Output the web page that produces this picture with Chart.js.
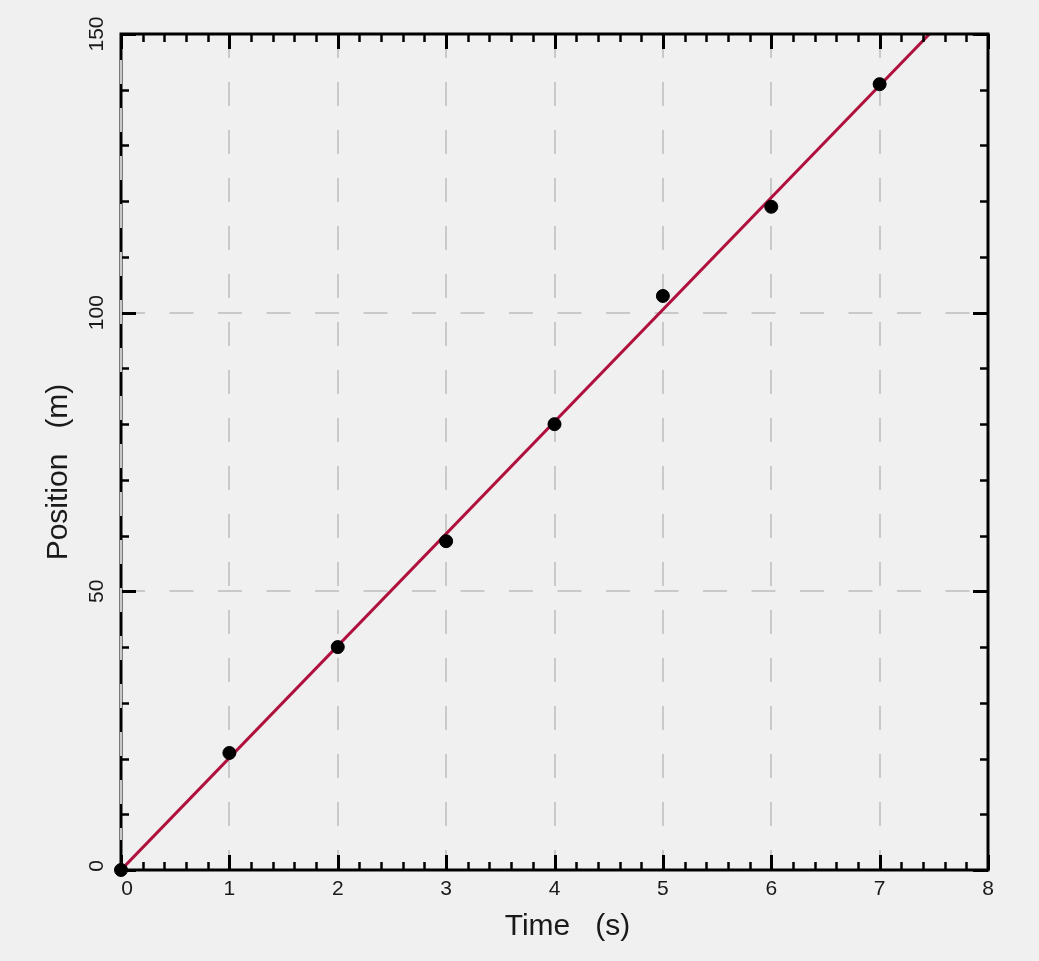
<!DOCTYPE html>
<html>
<head>
<meta charset="utf-8">
<script src="https://cdn.jsdelivr.net/npm/chart.js@4.4.1/dist/chart.umd.min.js"></script>
<style>
  html, body { margin: 0; padding: 0; background: #f0f0f0; }
  #wrap { width: 1039px; height: 961px; position: relative; }
</style>
</head>
<body>
<div id="wrap"><canvas id="c" width="1039" height="961"></canvas></div>
<script>
// ---- data ----
const timeS = [0, 1, 2, 3, 4, 5, 6, 7];
const positionM = [0, 21, 40, 59, 80, 103, 119, 141];
const fitLineX = [0, 7.46];
const fitLineY = [0, 150];
const xTickValues = [0, 1, 2, 3, 4, 5, 6, 7, 8];
const xTickLabels = ['0', '1', '2', '3', '4', '5', '6', '7', '8'];
const yTickValues = [0, 50, 100, 150];
const yTickLabels = ['0', '50', '100', '150'];
const xTitle = 'Time   (s)';
const yTitle = 'Position   (m)';

const FONT = '"Liberation Sans", Arial, Helvetica, sans-serif';
const GRID_COLOR = '#c9c9c9';
const X_GRID_DASH = [24, 24];
const Y_GRID_DASH = [24, 24.5];

const framePlugin = {
  id: 'frame',
  afterDatasetsDraw(chart) {
    const ctx = chart.ctx;
    const a = chart.chartArea;
    const xs = chart.scales.x, ys = chart.scales.y;
    ctx.save();
    ctx.strokeStyle = '#000';
    ctx.lineCap = 'butt';
    // minor & major ticks on x (bottom + top)
    for (let i = 0; i <= 40; i++) {
      const v = i * 0.2;
      const major = i % 5 === 0;
      const len = major ? 15 : 8;
      const px = Math.round(xs.getPixelForValue(v)) + 0.5;
      ctx.lineWidth = major ? 3 : 2.5;
      ctx.beginPath();
      ctx.moveTo(px, a.bottom); ctx.lineTo(px, a.bottom - len);
      ctx.moveTo(px, a.top); ctx.lineTo(px, a.top + len);
      ctx.stroke();
    }
    // y ticks (left + right)
    for (let v = 0; v <= 150; v += 10) {
      const major = v % 50 === 0;
      const len = major ? 15 : 8;
      const py = Math.round(ys.getPixelForValue(v)) + 0.5;
      ctx.lineWidth = major ? 3 : 2.5;
      ctx.beginPath();
      ctx.moveTo(a.left, py); ctx.lineTo(a.left + len, py);
      ctx.moveTo(a.right, py); ctx.lineTo(a.right - len, py);
      ctx.stroke();
    }
    // frame
    ctx.lineWidth = 3;
    ctx.strokeRect(a.left, a.top, a.right - a.left, a.bottom - a.top);
    // gray dashed grid line at x = 0 drawn over the left edge (as in reference)
    ctx.save();
    ctx.strokeStyle = GRID_COLOR;
    ctx.lineWidth = 2;
    ctx.setLineDash(X_GRID_DASH);
    const x0 = xs.getPixelForValue(0);
    ctx.beginPath();
    ctx.moveTo(x0, a.top + 26); ctx.lineTo(x0, a.bottom - 30);
    ctx.stroke();
    ctx.restore();

    // x tick labels
    ctx.fillStyle = '#1a1a1a';
    ctx.font = '21px ' + FONT;
    ctx.textAlign = 'center';
    ctx.textBaseline = 'middle';
    xTickValues.forEach((v, i) => {
      let px = xs.getPixelForValue(v);
      if (i === 0) px += 6;
      ctx.fillText(xTickLabels[i], px, a.bottom + 19);
    });
    // y tick labels, rotated
    yTickValues.forEach((v, i) => {
      let py = ys.getPixelForValue(v);
      if (i === 0) py -= 4;
      ctx.save();
      ctx.translate(a.left - 24, py);
      ctx.rotate(-Math.PI / 2);
      ctx.fillText(yTickLabels[i], 0, 0);
      ctx.restore();
    });
    // titles
    ctx.font = '30px ' + FONT;
    ctx.textBaseline = 'alphabetic';
    ctx.fillText(xTitle, (a.left + a.right) / 2 + 13, a.bottom + 65);
    ctx.save();
    ctx.translate(a.left - 54, (a.top + a.bottom) / 2 + 20);
    ctx.rotate(-Math.PI / 2);
    ctx.fillText(yTitle, 0, 0);
    ctx.restore();
    ctx.restore();
  }
};

const bgPlugin = {
  id: 'bg',
  beforeDraw(chart) {
    const ctx = chart.ctx;
    ctx.save();
    ctx.fillStyle = '#f0f0f0';
    ctx.fillRect(0, 0, chart.width, chart.height);
    ctx.restore();
  }
};

new Chart(document.getElementById('c'), {
  type: 'scatter',
  data: {
    datasets: [
      {
        label: 'fit',
        type: 'line',
        data: fitLineX.map((x, i) => ({ x, y: fitLineY[i] })),
        borderColor: '#b0103e',
        borderWidth: 3,
        pointRadius: 0,
        fill: false,
        tension: 0,
        order: 2
      },
      {
        label: 'data',
        data: timeS.map((x, i) => ({ x, y: positionM[i] })),
        backgroundColor: '#000',
        borderColor: '#000',
        pointRadius: 6.5,
        pointHoverRadius: 6.5,
        clip: false,
        order: 1
      }
    ]
  },
  options: {
    responsive: false,
    animation: false,
    devicePixelRatio: 1,
    layout: { padding: { left: 121, right: 51, top: 34, bottom: 91 } },
    plugins: { legend: { display: false }, tooltip: { enabled: false } },
    scales: {
      x: {
        type: 'linear', min: 0, max: 8,
        ticks: { display: false, stepSize: 1 },
        border: { display: false, dash: X_GRID_DASH },
        grid: {
          drawTicks: false, tickLength: 0,
          color: GRID_COLOR, lineWidth: 2
        }
      },
      y: {
        type: 'linear', min: 0, max: 150,
        ticks: { display: false, stepSize: 50 },
        border: { display: false, dash: Y_GRID_DASH },
        grid: {
          drawTicks: false, tickLength: 0,
          color: GRID_COLOR, lineWidth: 2
        }
      }
    }
  },
  plugins: [bgPlugin, framePlugin]
});
</script>
</body>
</html>
